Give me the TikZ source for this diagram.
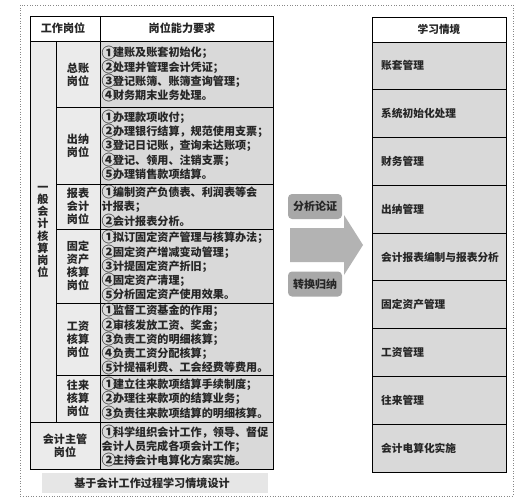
\documentclass[tikz,border=0pt]{standalone}
\usepackage{fontspec}
\newfontfamily\cjk{Noto Sans CJK SC}
\newcommand{\ci}[1]{\makebox[1.02em][l]{\raisebox{-0.1em}{\scalebox{1.3}{#1}}}}
\definecolor{cellgray}{HTML}{D9D9D9}
\definecolor{lightcell}{HTML}{EBEBEB}
\definecolor{footgray}{HTML}{E6E6E6}
\definecolor{arrowgray}{HTML}{B3B3B3}
\definecolor{taggray}{HTML}{A8A8A8}
\definecolor{dotgray}{HTML}{888888}
\begin{document}
\begin{tikzpicture}[x=1pt,y=-1pt,
  grid/.style={draw=black,line width=0.9pt},
  txt/.style={inner sep=0pt,font=\cjk\bfseries\fontsize{11.1}{14.3}\selectfont,text=black!85},
  content/.style={txt,anchor=west,align=left},
  posn/.style={inner sep=0pt,font=\cjk\bfseries\fontsize{11.1}{13}\selectfont,align=center,text=black!85},
  vlab/.style={inner sep=0pt,font=\cjk\bfseries\fontsize{11.1}{12.2}\selectfont,align=center,text=black!85},
  sit/.style={inner sep=0pt,anchor=west,font=\cjk\bfseries\fontsize{10.7}{13}\selectfont,text=black!85},
  tag/.style={fill=taggray,rounded corners=4pt,minimum width=54pt,minimum height=25pt,inner sep=0pt,font=\cjk\bfseries\fontsize{11}{13}\selectfont,text=black!85}]
\useasboundingbox (0,0) rectangle (529,500);
\fill[white] (0,0) rectangle (529,500);
% outer dotted frame
\draw[dotgray,dotted,line width=0.6pt] (20,5) rectangle (513,496);

% ===== left table fills =====
\fill[lightcell] (30,41) rectangle (100,469);
\fill[cellgray] (100,41) rectangle (273,469);
% grid
\draw[grid] (30,16) rectangle (273,469);
\draw[grid] (30,41) -- (273,41);
\draw[grid] (100,16) -- (100,469);
\draw[grid] (56,41) -- (56,422);
\foreach \yy in {107,184,229,303,375} \draw[grid] (56,\yy) -- (273,\yy);
\draw[grid] (30,422) -- (273,422);

% header
\node[txt] (hpos) at (63,28.5) {工作岗位};
\node[txt] (hreq) at (182,28.5) {岗位能力要求};
\node[vlab] (general) at (43,232) {一\\般\\会\\计\\核\\算\\岗\\位};

% positions
\node[posn] (p1) at (78,75) {总账\\岗位};
\node[posn] (p2) at (78,146) {出纳\\岗位};
\node[posn] (p3) at (78,206.5) {报表\\会计\\岗位};
\node[posn] (p4) at (78,266) {固定\\资产\\核算\\岗位};
\node[posn] (p5) at (78,339) {工资\\核算\\岗位};
\node[posn] (p6) at (78,398.5) {往来\\核算\\岗位};
\node[posn] (p7) at (65,446) {会计主管\\岗位};

% requirements
\node[content] (r1) at (101.5,74) {\ci{①}建账及账套初始化；\\\ci{②}处理并管理会计凭证；\\\ci{③}登记账簿、账簿查询管理；\\\ci{④}财务期末业务处理。};
\node[content] (r2) at (101.5,145.5) {\ci{①}办理款项收付；\\\ci{②}办理银行结算，规范使用支票；\\\ci{③}登记日记账，查询未达账项；\\\ci{④}登记、领用、注销支票；\\\ci{⑤}办理销售款项结算。};
\node[content] (r3) at (101.5,206.5) {\ci{①}编制资产负债表、利润表等会\\计报表；\\\ci{②}会计报表分析。};
\node[content] (r4) at (101.5,266) {\ci{①}拟订固定资产管理与核算办法；\\\ci{②}固定资产增减变动管理；\\\ci{③}计提固定资产折旧；\\\ci{④}固定资产清理；\\\ci{⑤}分析固定资产使用效果。};
\node[content] (r5) at (101.5,339) {\ci{①}监督工资基金的作用；\\\ci{②}审核发放工资、奖金；\\\ci{③}负责工资的明细核算；\\\ci{④}负责工资分配核算；\\\ci{⑤}计提福利费、工会经费等费用。};
\node[content] (r6) at (101.5,398.5) {\ci{①}建立往来款项结算手续制度；\\\ci{②}办理往来款项的结算业务；\\\ci{③}负责往来款项结算的明细核算。};
\node[content] (r7) at (101.5,446) {\ci{①}科学组织会计工作，领导、督促\\会计人员完成各项会计工作；\\\ci{②}主持会计电算化方案实施。};

% footer
\fill[footgray] (42,473) rectangle (268,493);
\node[txt] (foot) at (152,483) {基于会计工作过程学习情境设计};

% ===== arrow =====
\fill[arrowgray] (290,228) -- (344,228) -- (344,215) -- (363,245) -- (344,275) -- (344,262) -- (290,262) -- cycle;
\node[tag] (t1) at (315,206.5) {分析论证};
\node[tag] (t2) at (315,284) {转换归纳};

% ===== right table =====
\fill[cellgray] (372,42) rectangle (506,472);
\draw[grid] (372,17) rectangle (506,472);
\draw[grid] (372,42) -- (506,42);
\foreach \i in {1,...,8} \draw[grid] (372,{42+\i*47.78}) -- (506,{42+\i*47.78});
\node[sit] (sh) at (439,29.5) [anchor=center] {学习情境};
\node[sit] (s1) at (381,{42+0.5*47.78}) {账套管理};
\node[sit] (s2) at (381,{42+1.5*47.78}) {系统初始化处理};
\node[sit] (s3) at (381,{42+2.5*47.78}) {财务管理};
\node[sit] (s4) at (381,{42+3.5*47.78}) {出纳管理};
\node[sit] (s5) at (381,{42+4.5*47.78}) {会计报表编制与报表分析};
\node[sit] (s6) at (381,{42+5.5*47.78}) {固定资产管理};
\node[sit] (s7) at (381,{42+6.5*47.78}) {工资管理};
\node[sit] (s8) at (381,{42+7.5*47.78}) {往来管理};
\node[sit] (s9) at (381,{42+8.5*47.78}) {会计电算化实施};
\end{tikzpicture}
\end{document}
